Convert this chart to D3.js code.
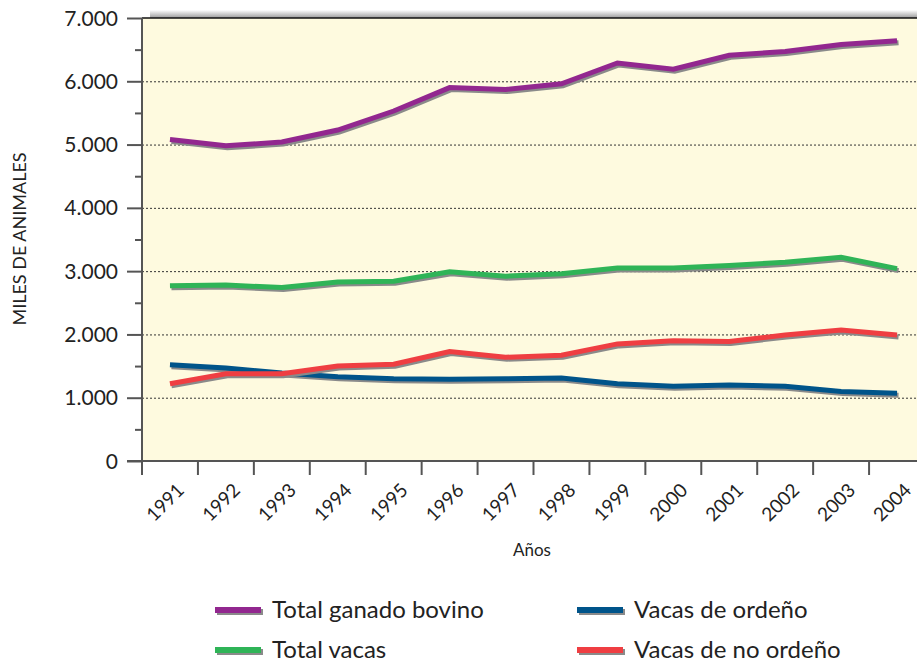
<!DOCTYPE html>
<html>
<head>
<meta charset="utf-8">
<script src="https://cdn.jsdelivr.net/npm/d3@7"></script>
<style>
  body { margin: 0; background: #fff; }
  svg { display: block; font-family: "Lato", "Open Sans", sans-serif; }
</style>
</head>
<body>
<div class="chart"></div>
<script>
const years = ["1991","1992","1993","1994","1995","1996","1997","1998","1999","2000","2001","2002","2003","2004"]
const totalBovino = [5080, 4980, 5040, 5230, 5530, 5900, 5870, 5960, 6290, 6190, 6410, 6470, 6580, 6640]
const totalVacas = [2770, 2780, 2740, 2830, 2840, 2990, 2920, 2960, 3050, 3050, 3090, 3140, 3220, 3040]
const vacasOrdeno = [1520, 1470, 1390, 1330, 1300, 1290, 1300, 1310, 1220, 1180, 1200, 1180, 1100, 1070]
const vacasNoOrdeno = [1220, 1380, 1380, 1500, 1530, 1730, 1640, 1670, 1850, 1900, 1890, 1990, 2070, 1990]
const yTicks = [0, 1000, 2000, 3000, 4000, 5000, 6000, 7000]

const series = [
    {name: "Total ganado bovino", values: totalBovino, color: "#92278f"},
    {name: "Total vacas", values: totalVacas, color: "#2fb457"},
    {name: "Vacas de ordeño", values: vacasOrdeno, color: "#00548a"},
    {name: "Vacas de no ordeño", values: vacasNoOrdeno, color: "#ef3e42"}
]

const W = 917, H = 662
const margin = {top: 18, left: 142, bottom: 201}
const plotW = 783, plotH = H - margin.top - margin.bottom

const x = d3.scaleBand().domain(years).range([0, plotW])
const y = d3.scaleLinear().domain([0, 7000]).range([plotH, 0])

const svg = d3.select(".chart").append("svg")
    .attr("width", W)
    .attr("height", H)

const defs = svg.append("defs")
const grad = defs.append("linearGradient").attr("id", "topShade").attr("x1", 0).attr("y1", 0).attr("x2", 0).attr("y2", 1)
grad.append("stop").attr("offset", "0%").attr("stop-color", "#fff")
grad.append("stop").attr("offset", "100%").attr("stop-color", "#9a9a9a")

const g = svg.append("g")
    .attr("transform", "translate(" + margin.left + "," + margin.top + ")")

// top shadow strip
g.append("rect")
    .attr("x", 8).attr("y", -8)
    .attr("width", plotW).attr("height", 8)
    .attr("fill", "url(#topShade)")

// plot background
g.append("rect")
    .attr("width", plotW)
    .attr("height", plotH)
    .attr("fill", "#fefadf")

g.append("line")
    .attr("x1", 0).attr("x2", plotW)
    .attr("y1", 0).attr("y2", 0)
    .attr("stroke", "#111").attr("stroke-width", 1.5)

// dotted grid
g.selectAll(".grid")
    .data(yTicks.filter(function(d) { return d > 0 && d < 7000 }))
    .enter().append("line")
    .attr("class", "grid")
    .attr("x1", 0).attr("x2", plotW)
    .attr("y1", function(d) { return y(d) + 0.5 })
    .attr("y2", function(d) { return y(d) + 0.5 })
    .attr("stroke", "#333")
    .attr("stroke-width", 1)
    .attr("stroke-dasharray", "2,2")

// y axis
const yAxis = d3.axisLeft(y)
    .tickValues(d3.range(0, 7001, 500))
    .tickSize(0)
    .tickFormat("")

const yg = g.append("g").call(yAxis)
yg.select(".domain").remove()
yg.selectAll(".tick line")
    .attr("x2", function(d) { return d % 1000 === 0 ? -15 : -7 })
    .attr("stroke", "#555").attr("stroke-width", 2)

g.append("line")
    .attr("x1", 0).attr("x2", 0)
    .attr("y1", 0).attr("y2", plotH + 14)
    .attr("stroke", "#555").attr("stroke-width", 2)

g.selectAll(".ylab")
    .data(yTicks)
    .enter().append("text")
    .attr("class", "ylab")
    .attr("x", -24)
    .attr("y", function(d) { return y(d) })
    .attr("dy", "0.36em")
    .attr("text-anchor", "end")
    .attr("font-size", 21)
    .attr("fill", "#222")
    .text(function(d) { return d3.format(",")(d).replace(/,/g, ".") })

// x axis
g.append("line")
    .attr("x1", -15).attr("x2", plotW)
    .attr("y1", plotH).attr("y2", plotH)
    .attr("stroke", "#555").attr("stroke-width", 2)

g.selectAll(".xtick")
    .data(years)
    .enter().append("line")
    .attr("class", "xtick")
    .attr("x1", function(d) { return x(d) }).attr("x2", function(d) { return x(d) })
    .attr("y1", plotH).attr("y2", plotH + 14)
    .attr("stroke", "#555").attr("stroke-width", 2)

g.selectAll(".xlab")
    .data(years)
    .enter().append("text")
    .attr("class", "xlab")
    .attr("transform", function(d) { return "translate(" + (x(d) + x.bandwidth() / 2 + 6) + "," + (plotH + 21) + ") rotate(-45)" })
    .attr("text-anchor", "end")
    .attr("dy", "0.7em")
    .attr("font-size", 19)
    .attr("fill", "#222")
    .text(function(d) { return d })

svg.append("text")
    .attr("x", 532).attr("y", 556)
    .attr("text-anchor", "middle")
    .attr("font-size", 17)
    .attr("fill", "#222")
    .text("Años")

svg.append("text")
    .attr("transform", "translate(26,239) rotate(-90)")
    .attr("text-anchor", "middle")
    .attr("font-size", 18)
    .attr("fill", "#222")
    .text("MILES DE ANIMALES")

// lines
const line = d3.line()
    .x(function(d, i) { return x(years[i]) + x.bandwidth() / 2 })
    .y(function(d) { return y(d) })

const lines = g.selectAll(".serie")
    .data(series)
    .enter().append("g")
    .attr("class", "serie")

lines.append("path")
    .attr("d", function(d) { return line(d.values) })
    .attr("transform", "translate(1.5,2)")
    .attr("fill", "none")
    .attr("stroke", "#8a8a8a")
    .attr("stroke-width", 5)

lines.append("path")
    .attr("d", function(d) { return line(d.values) })
    .attr("fill", "none")
    .attr("stroke", function(d) { return d.color })
    .attr("stroke-width", 5)

// legend
const legend = svg.selectAll(".legend")
    .data(series)
    .enter().append("g")
    .attr("class", "legend")
    .attr("transform", function(d, i) { return "translate(" + (i < 2 ? 215 : 577) + "," + (610 + (i % 2) * 40) + ")" })

legend.append("rect")
    .attr("x", 2).attr("y", -1)
    .attr("width", 46).attr("height", 6)
    .attr("fill", "#8a8a8a")
legend.append("rect")
    .attr("x", 0).attr("y", -3)
    .attr("width", 46).attr("height", 6)
    .attr("fill", function(d) { return d.color })

legend.append("text")
    .attr("x", 57).attr("y", 0)
    .attr("dy", "0.35em")
    .attr("font-size", 24)
    .attr("fill", "#222")
    .text(function(d) { return d.name })
</script>
</body>
</html>
